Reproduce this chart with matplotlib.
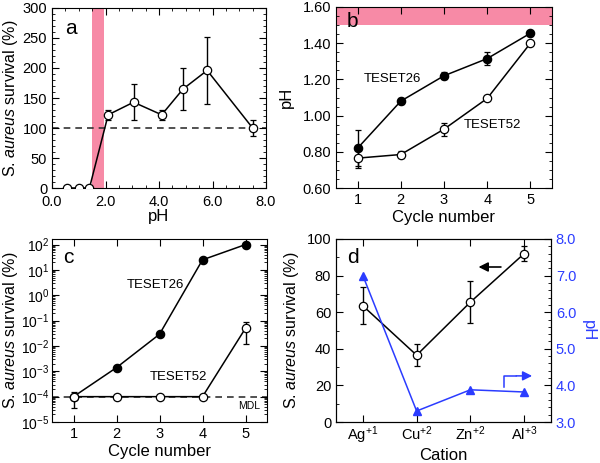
import numpy as np
import matplotlib
matplotlib.use("Agg")
import matplotlib.pyplot as plt
from matplotlib.ticker import MultipleLocator, FormatStrFormatter, LogLocator

plt.rcParams['font.family'] = ['Liberation Sans', 'DejaVu Sans']
plt.rcParams['xtick.direction'] = 'in'
plt.rcParams['ytick.direction'] = 'in'
plt.rcParams['xtick.top'] = True
plt.rcParams['ytick.right'] = True
plt.rcParams['font.size'] = 10.5
plt.rcParams['xtick.major.size'] = 5
plt.rcParams['ytick.major.size'] = 5
plt.rcParams['xtick.minor.size'] = 2.5
plt.rcParams['ytick.minor.size'] = 2.5
plt.rcParams['mathtext.fontset'] = 'custom'
plt.rcParams['mathtext.rm'] = 'Liberation Sans'
plt.rcParams['mathtext.it'] = 'Liberation Sans:italic'

# panel a: survival vs pH
ph_a = [0.55, 1.0, 1.4, 2.1, 3.05, 4.1, 4.9, 5.8, 7.5]
surv_a = [0, 0, 0, 122, 143, 122, 165, 196, 100]
err_a = [0, 0, 0, 8, 30, 8, 35, 56, 13]

# panel b: pH vs cycle
cycles = [1, 2, 3, 4, 5]
ph_26 = [0.82, 1.08, 1.22, 1.315, 1.455]
ph_26_err = [0.10, 0.015, 0.02, 0.035, 0.015]
ph_52 = [0.765, 0.785, 0.925, 1.095, 1.40]
ph_52_err = [0.055, 0.02, 0.035, 0.0, 0.0]

# panel c: survival vs cycle (log)
surv_26 = [1e-4, 1.4e-3, 2.9e-2, 25, 100]
surv_52 = [1e-4, 1e-4, 1e-4, 1e-4, 0.05]
surv_52_lo = [6.3e-5, 0, 0, 0, 0.038]
surv_52_hi = [5.5e-5, 0, 0, 0, 0.04]

# panel d: cations
cations = ['Ag$^{+1}$', 'Cu$^{+2}$', 'Zn$^{+2}$', 'Al$^{+3}$']
surv_d = [63.5, 36.5, 65.5, 92]
surv_d_err = [10, 6, 11.5, 4]
ph_d = [7.0, 3.3, 3.88, 3.82]

fig = plt.figure(figsize=(6, 4.63), dpi=100)
W, H = 600, 463

def box(l, t, r, b):
    return [l / W, 1 - b / H, (r - l) / W, (b - t) / H]

pink = '#f78aa6'
blue = '#2b3cff'
ylab = 'S. $\\it{aureus}$ survival (%)'
mk = dict(markersize=6, markeredgewidth=0.9, markeredgecolor='black', color='black', lw=1.1)
eb = dict(ecolor='black', elinewidth=1.0, capsize=2.5, capthick=1.0)

# ---- a
ax = fig.add_axes(box(52, 8, 266, 188))
ax.axvspan(1.5, 1.95, color=pink, lw=0, zorder=0)
ax.axhline(100, color='#333333', ls=(0, (4, 3)), lw=1.2, zorder=1)
ax.errorbar(ph_a, surv_a, yerr=err_a, marker='o', markerfacecolor='white', zorder=3, **mk, **eb)
ax.set_xlim(0, 8)
ax.set_ylim(0, 300)
ax.xaxis.set_major_locator(MultipleLocator(2))
ax.xaxis.set_minor_locator(MultipleLocator(0.5))
ax.xaxis.set_major_formatter(FormatStrFormatter('%.1f'))
ax.yaxis.set_major_locator(MultipleLocator(50))
ax.yaxis.set_minor_locator(MultipleLocator(10))
ax.tick_params(axis='x', pad=5)
ax.set_xlabel('pH', fontsize=12, labelpad=0)
ax.set_ylabel(ylab, fontsize=11.5)
ax.yaxis.set_label_coords(-0.148, 0.5)
ax.text(0.06, 0.94, 'a', transform=ax.transAxes, fontsize=15, va='top')

# ---- b
ax = fig.add_axes(box(336, 7, 552, 188))
ax.axhspan(1.5, 1.6, color=pink, lw=0, zorder=0)
ax.errorbar(cycles, ph_26, yerr=ph_26_err, marker='o', markerfacecolor='black', zorder=3, **mk, **eb)
ax.errorbar(cycles, ph_52, yerr=ph_52_err, marker='o', markerfacecolor='white', zorder=3, **mk, **eb)
ax.set_xlim(0.5, 5.5)
ax.set_ylim(0.6, 1.6)
ax.xaxis.set_major_locator(MultipleLocator(1))
ax.yaxis.set_major_locator(MultipleLocator(0.2))
ax.yaxis.set_minor_locator(MultipleLocator(0.05))
ax.yaxis.set_major_formatter(FormatStrFormatter('%.2f'))
ax.set_xlabel('Cycle number', fontsize=12, labelpad=2)
ax.set_ylabel('pH', fontsize=12, labelpad=6)
ax.text(1.8, 1.20, 'TESET26', fontsize=9.5, ha='center', va='center')
ax.text(4.13, 0.95, 'TESET52', fontsize=9.5, ha='center', va='center')
ax.text(0.05, 0.97, 'b', transform=ax.transAxes, fontsize=15, va='top')

# ---- c
ax = fig.add_axes(box(52, 239, 267, 422))
ax.set_yscale('log')
ax.axhline(1e-4, color='#333333', ls=(0, (4, 3)), lw=1.2, zorder=1)
ax.plot(cycles, surv_26, marker='o', markerfacecolor='black', zorder=3, **mk)
ax.errorbar(cycles, surv_52, yerr=[surv_52_lo, surv_52_hi], marker='o',
            markerfacecolor='white', zorder=4, **mk, **eb)
ax.set_xlim(0.5, 5.5)
ax.set_ylim(1e-5, 166)
ax.xaxis.set_major_locator(MultipleLocator(1))
ax.yaxis.set_major_locator(LogLocator(base=10, numticks=20))
ax.yaxis.set_minor_locator(LogLocator(base=10, subs=np.arange(2, 10), numticks=20))
ax.tick_params(axis='y', labelsize=10, pad=2)
ax.set_xlabel('Cycle number', fontsize=12, labelpad=2)
ax.set_ylabel(ylab, fontsize=11.5)
ax.yaxis.set_label_coords(-0.148, 0.5)
ax.text(2.9, 2.6, 'TESET26', fontsize=9.5, ha='center', va='center')
ax.text(3.45, 6e-4, 'TESET52', fontsize=9.5, ha='center', va='center')
ax.text(5.34, 7e-5, 'MDL', fontsize=7.5, ha='right', va='top')
ax.text(0.05, 0.95, 'c', transform=ax.transAxes, fontsize=15, va='top')

# ---- d
ax = fig.add_axes(box(336, 239, 551, 422))
xpos = np.arange(1, len(cations) + 1)
ax.errorbar(xpos, surv_d, yerr=surv_d_err, marker='o', markerfacecolor='white', zorder=3, **mk, **eb)
ax.set_xlim(0.5, 4.5)
ax.set_ylim(0, 100)
ax.set_xticks(xpos)
ax.set_xticklabels(cations)
ax.yaxis.set_major_locator(MultipleLocator(20))
ax.yaxis.set_minor_locator(MultipleLocator(10))
ax.tick_params(axis='y', right=False)
ax.tick_params(axis='x', pad=2)
ax.set_xlabel('Cation', fontsize=12, labelpad=1)
ax.set_ylabel(ylab, fontsize=11.5)
ax.yaxis.set_label_coords(-0.165, 0.5)
ax.text(0.05, 0.95, 'd', transform=ax.transAxes, fontsize=15, va='top')
ax.annotate('', xy=(3.1, 84.7), xytext=(3.62, 84.7),
            arrowprops=dict(arrowstyle='-|>', color='black', lw=1.2, mutation_scale=14))
ax2 = ax.twinx()
ax2.plot(xpos, ph_d, marker='^', color=blue, markersize=6, lw=1.1, zorder=3)
ax2.set_ylim(3.0, 8.0)
ax2.yaxis.set_major_locator(MultipleLocator(1))
ax2.yaxis.set_minor_locator(MultipleLocator(0.2))
ax2.yaxis.set_major_formatter(FormatStrFormatter('%.1f'))
ax2.tick_params(axis='y', labelcolor=blue, color='black', which='both')
ax2.set_ylabel('pH', fontsize=12, color=blue, rotation=270, labelpad=14)
ax2.plot([3.63, 3.63, 3.85], [3.96, 4.26, 4.26], color=blue, lw=1.1)
ax2.annotate('', xy=(4.2, 4.26), xytext=(3.8, 4.26),
             arrowprops=dict(arrowstyle='-|>', color=blue, lw=1.1, mutation_scale=14))

fig.savefig('out.png', dpi=100)
